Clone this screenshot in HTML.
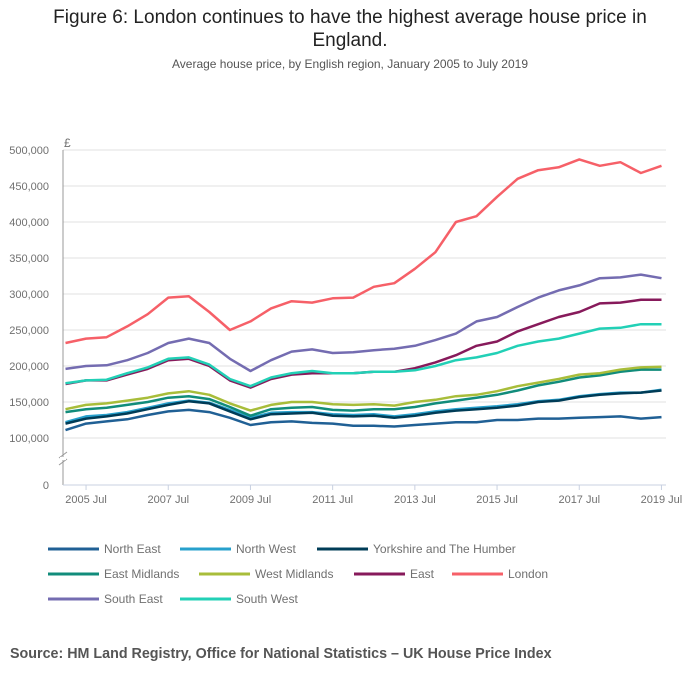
<!DOCTYPE html>
<html><head><meta charset="utf-8"><style>
body{margin:0;background:#fff;font-family:"Liberation Sans",sans-serif;}
#wrap{position:relative;width:700px;height:682px;overflow:hidden;}
.t{position:absolute;left:0;width:700px;text-align:center;}
</style></head><body>
<div id="wrap">
<div class="t" style="top:6px;font-size:19px;color:#222;line-height:23px;">Figure 6: London continues to have the highest average house price in<br>England.</div>
<div class="t" style="top:57px;font-size:12px;color:#555;">Average house price, by English region, January 2005 to July 2019</div>
<svg id="chart" width="700" height="682" style="position:absolute;left:0;top:0"></svg>
<div style="position:absolute;left:10px;top:646px;font-size:14.3px;font-weight:bold;color:#555;">Source: HM Land Registry, Office for National Statistics – UK House Price Index</div>
</div>
<script>
const times=[2005.0,2005.5,2006.0,2006.5,2007.0,2007.5,2008.0,2008.5,2009.0,2009.5,2010.0,2010.5,2011.0,2011.5,2012.0,2012.5,2013.0,2013.5,2014.0,2014.5,2015.0,2015.5,2016.0,2016.5,2017.0,2017.5,2018.0,2018.5,2019.0,2019.5];
const yTicks=[100000,150000,200000,250000,300000,350000,400000,450000,500000];
const xTickYears=[2005,2007,2009,2011,2013,2015,2017,2019];
const seriesNames=["North East","North West","Yorkshire and The Humber","East Midlands","West Midlands","East","London","South East","South West"];
const seriesColors=["#206095","#27a0cc","#003c57","#118c7b","#a8bd3a","#871a5b","#f66068","#746cb1","#22d0b6"];
const northEast=[111,120,123,126,132,137,139,136,128,118,122,123,121,120,117,117,116,118,120,122,122,125,125,127,127,128,129,130,127,129];
const northWest=[122,130,132,136,142,148,152,149,139,128,135,136,136,133,132,133,130,133,137,140,142,144,147,151,153,158,161,163,163,167];
const yorkshire=[120,127,130,134,140,146,151,148,137,126,133,134,135,131,130,131,128,131,135,138,140,142,145,150,152,157,160,162,163,166];
const eastMidlands=[136,140,142,146,150,156,158,154,143,131,140,142,143,139,138,140,140,143,148,152,156,160,166,173,178,184,187,192,195,195];
const westMidlands=[140,146,148,152,156,162,165,160,148,138,146,150,150,147,146,147,145,150,153,158,160,165,172,177,182,188,190,195,198,199];
const east=[175,180,180,188,196,208,210,200,180,170,182,188,190,190,190,192,192,197,205,215,228,234,248,258,268,275,287,288,292,292];
const london=[232,238,240,255,272,295,297,275,250,262,280,290,288,294,295,310,315,335,358,400,408,435,460,472,476,487,478,483,468,478];
const southEast=[196,200,201,208,218,232,238,232,210,193,208,220,223,218,219,222,224,228,236,245,262,268,282,295,305,312,322,323,327,322];
const southWest=[176,180,181,190,198,210,212,202,182,172,184,190,193,190,190,192,192,194,200,208,212,218,228,234,238,245,252,253,258,258];
const allSeries=[northEast,northWest,yorkshire,eastMidlands,westMidlands,east,london,southEast,southWest];

const NS="http://www.w3.org/2000/svg";
const svg=document.getElementById('chart');
function xS(t){return 65.5+(t-2005)*41.1;}
function yS(v){return 438-(v-100000)*0.00072;}
function mk(tag,attrs,parent){const e=document.createElementNS(NS,tag);for(const k in attrs)e.setAttribute(k,attrs[k]);(parent||svg).appendChild(e);return e;}

yTicks.forEach(v=>{
  const g=mk('line',{x1:63,x2:666,y1:yS(v),y2:yS(v),stroke:'#e0e0e0','stroke-width':1});
  
  
  const l=mk('text',{x:49,y:yS(v)+4,'text-anchor':'end','font-size':11,fill:'#707070'});
  l.textContent=v.toLocaleString('en-GB');
  
  
});
const z=mk('text',{x:49,y:489,'text-anchor':'end','font-size':11,fill:'#707070'});z.textContent='0';


const pound=mk('text',{x:64,y:147,'font-size':12,fill:'#707070'});pound.textContent='£';


const ya=mk('line',{x1:63,x2:63,y1:150,y2:485,stroke:'#999','stroke-width':1});


const brk=mk('g',{});


mk('line',{x1:59,y1:458,x2:67,y2:452,stroke:'#999'},brk);
mk('line',{x1:59,y1:465,x2:67,y2:459,stroke:'#999'},brk);
mk('rect',{x:60,y:457,width:6,height:3,fill:'#fff'},brk);
const xa=mk('line',{x1:63,x2:666,y1:485,y2:485,stroke:'#c8d0e0','stroke-width':1});


xTickYears.forEach(yr=>{
  const x=xS(yr+0.5);
  const tk=mk('line',{x1:x,x2:x,y1:485,y2:490,stroke:'#c8d0e0'});
  
  
  const l=mk('text',{x:x,y:503,'text-anchor':'middle','font-size':11,fill:'#707070'});
  l.textContent=yr+' Jul';
  
  
});
allSeries.forEach((s,i)=>{
  const d=s.map((v,j)=>(j?'L':'M')+xS(times[j]).toFixed(1)+','+yS(v*1000).toFixed(1)).join(' ');
  const p=mk('path',{d:d,fill:'none',stroke:seriesColors[i],'stroke-width':2.5,'stroke-linejoin':'round'});
  
  
});
const legPos=[[48,549],[180,549],[317,549],[48,574],[199,574],[354,574],[452,574],[48,599],[180,599]];
seriesNames.forEach((n,i)=>{
  const [x,y]=legPos[i];
  const g=mk('g',{});
  
  
  mk('line',{x1:x,x2:x+51,y1:y,y2:y,stroke:seriesColors[i],'stroke-width':3},g);
  const t=mk('text',{x:x+56,y:y+4,'font-size':12,fill:'#707070'},g);
  t.textContent=n;
});
</script>
</body></html>
